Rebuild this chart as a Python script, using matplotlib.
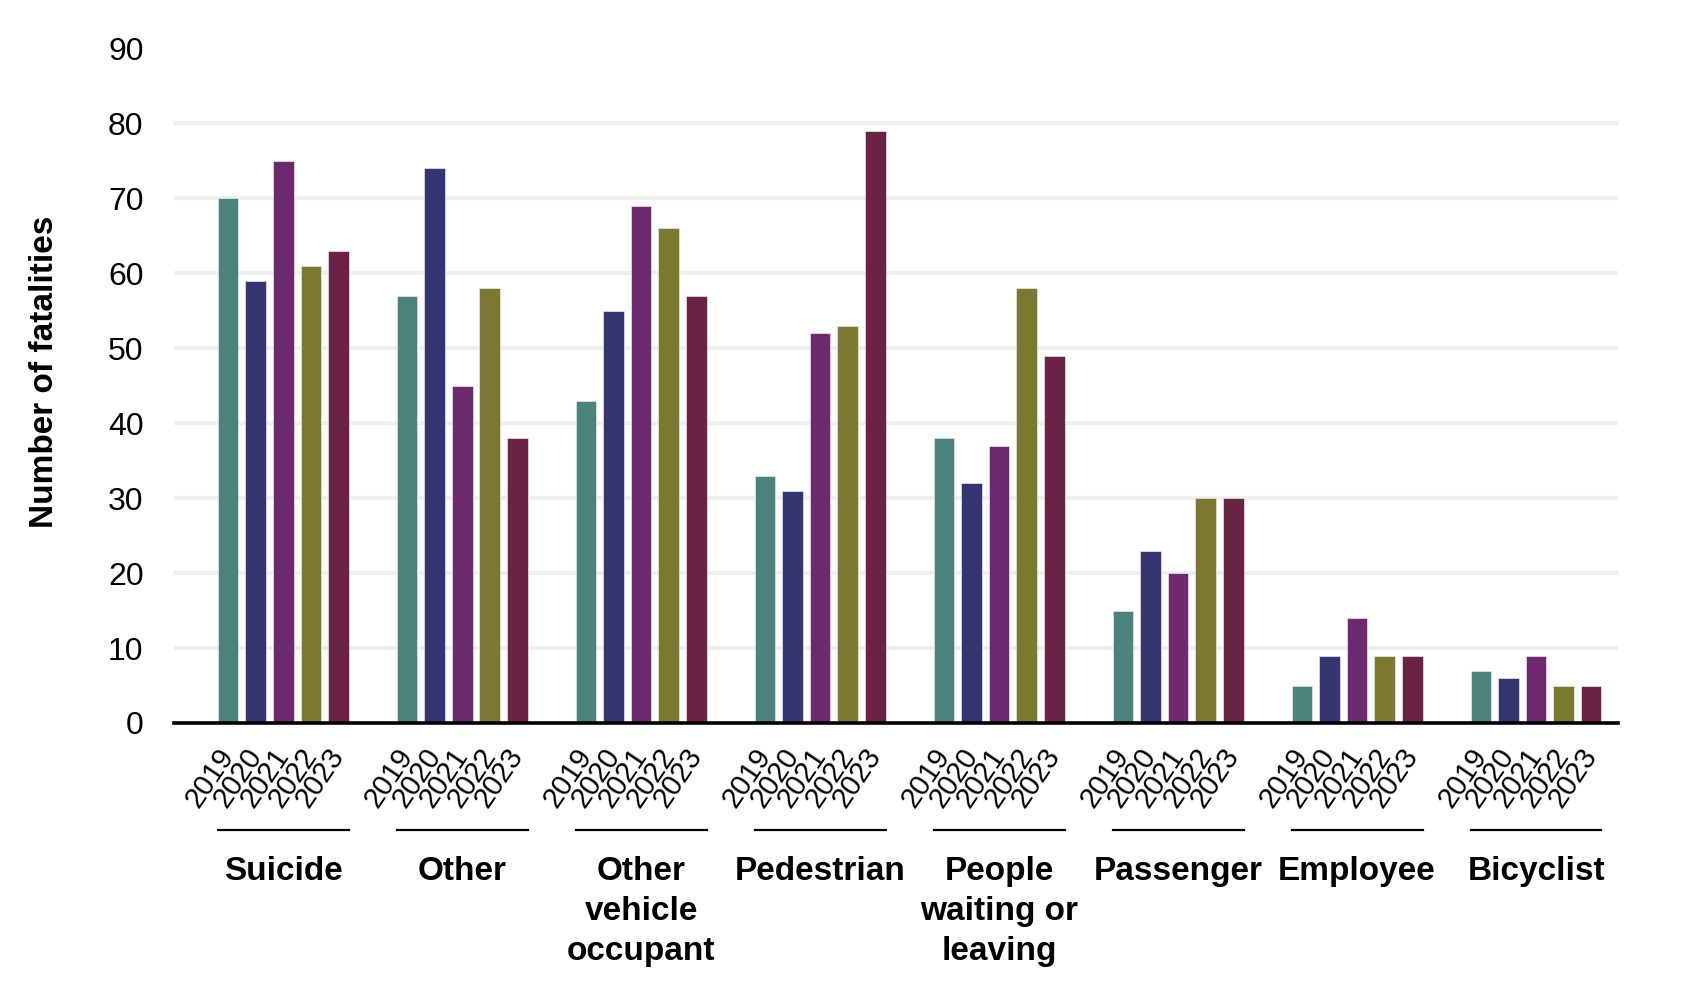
import matplotlib
matplotlib.use("Agg")
import matplotlib.pyplot as plt
import matplotlib.transforms as mtransforms
import numpy as np

plt.rcParams['font.family'] = ['Liberation Sans', 'DejaVu Sans']

categories = ["Suicide", "Other", "Other\nvehicle\noccupant", "Pedestrian",
              "People\nwaiting or\nleaving", "Passenger", "Employee", "Bicyclist"]
years = ["2019", "2020", "2021", "2022", "2023"]
v2019 = [70, 57, 43, 33, 38, 15, 5, 7]
v2020 = [59, 74, 55, 31, 32, 23, 9, 6]
v2021 = [75, 45, 69, 52, 37, 20, 14, 9]
v2022 = [61, 58, 66, 53, 58, 30, 9, 5]
v2023 = [63, 38, 57, 79, 49, 30, 9, 5]
series = [v2019, v2020, v2021, v2022, v2023]
colors = ["#4A827C", "#333470", "#6E2870", "#7B7931", "#6A2245"]
yticks = [0, 10, 20, 30, 40, 50, 60, 70, 80, 90]

fig = plt.figure(figsize=(17, 9.81), dpi=100)
ax = fig.add_axes([0.1024, 0.263, 0.8496, 0.688])

x = np.arange(len(categories))
step = 0.154
width = 0.115
offsets = (np.arange(len(years)) - 2) * step

tick_pos = []
tick_lab = []
for i, (vals, c) in enumerate(zip(series, colors)):
    ax.bar(x + offsets[i], vals, width=width, color=c, zorder=3,
           edgecolor='#e8e8e8', linewidth=0.5)
for gi in x:
    for i, yr in enumerate(years):
        tick_pos.append(gi + offsets[i])
        tick_lab.append(yr)

ax.set_xlim(-0.61, 7.46)
ax.set_ylim(0, 90)
ax.set_yticks(yticks)
ax.set_yticklabels([str(t) for t in yticks], fontsize=23)
ax.tick_params(axis='y', length=0, pad=22)

ax.set_xticks(tick_pos)
ax.set_xticklabels(tick_lab, rotation=56, rotation_mode='anchor',
                   ha='right', va='center', fontsize=21)
ax.tick_params(axis='x', length=0, pad=20)

ax.yaxis.grid(True, color='#EFEFEF', linewidth=3, zorder=0)
ax.set_axisbelow(True)
ax.get_ygridlines()[-1].set_visible(False)

for s in ['top', 'right', 'left']:
    ax.spines[s].set_visible(False)
ax.spines['bottom'].set_linewidth(2.6)
ax.spines['bottom'].set_color('black')
ax.spines['bottom'].set_zorder(4)

ax.set_ylabel("Number of fatalities", fontsize=24, fontweight='bold')
ax.yaxis.set_label_coords(-0.079, 0.52)

trans = mtransforms.blended_transform_factory(ax.transData, ax.transAxes)
half = 2 * step + width / 2
for gi, cat in zip(x, categories):
    ax.plot([gi - half, gi + half], [-0.1585, -0.1585], transform=trans,
            color='black', linewidth=1.6, clip_on=False)
    ax.text(gi, -0.197, cat, transform=trans, ha='center', va='top',
            fontsize=24, fontweight='bold', linespacing=1.38)

fig.savefig("out.png", dpi=100)
